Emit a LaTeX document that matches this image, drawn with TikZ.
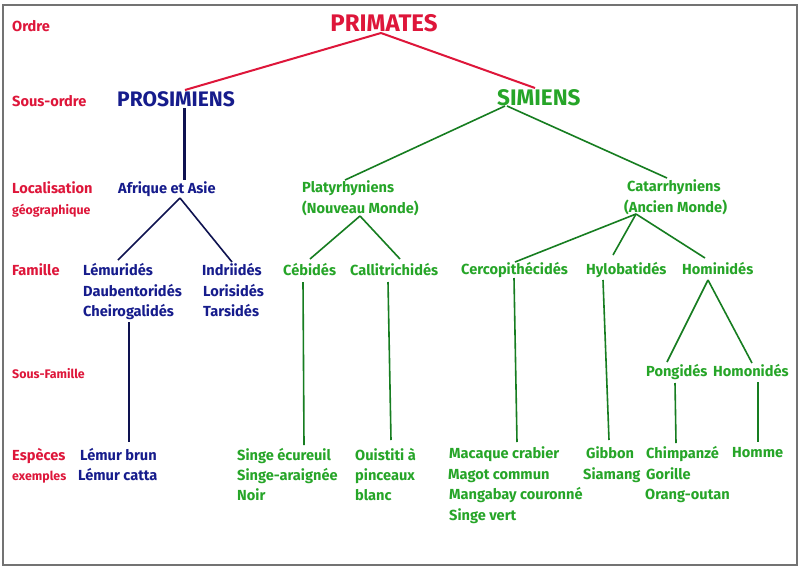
\documentclass[tikz,border=0pt]{standalone}
\usepackage{fontspec}
\setmainfont{Fira Sans}
\usetikzlibrary{calc}
\definecolor{cred}{RGB}{222,22,58}
\definecolor{cblue}{RGB}{22,28,140}
\definecolor{cgreen}{RGB}{38,165,40}
\definecolor{lgreen}{RGB}{22,125,32}
\definecolor{lblue}{RGB}{14,18,80}
\newcommand{\fs}[1]{\fontsize{#1}{#1}\selectfont}
\tikzset{
  x=1pt, y=-1pt,
  txt/.style={anchor=base west, inner sep=0pt, font=\bfseries\fs{14.6}},
  lab/.style={txt, text=cred},
  labs/.style={txt, text=cred, font=\bfseries\fs{12.4}},
  bt/.style={txt, text=cblue},
  gt/.style={txt, text=cgreen},
  rl/.style={draw=cred, line width=2pt},
  bl/.style={draw=lblue, line width=1.6pt},
  gl/.style={draw=lgreen, line width=1.6pt},
}
\begin{document}
\begin{tikzpicture}
\useasboundingbox (0,0) rectangle (800,568);
\fill[white] (0,0) rectangle (800,568);
\draw[black!55, line width=1.2pt] (3,5) rectangle (797,565);
% left labels
\node[lab] (lordre) at (12,31) {Ordre};
\node[lab] (lsous) at (12,106) {Sous-ordre};
\node[lab] (lloc) at (12,193) {Localisation};
\node[labs] (lgeo) at (12,214) {géographique};
\node[lab] (lfam) at (12,275) {Famille};
\node[labs] (lsfam) at (12,378) {Sous-Famille};
\node[lab] (lesp) at (12,460) {Espèces};
\node[labs] (lex) at (12,480) {exemples};
% main
\node[txt, anchor=base, text=cred, font=\bfseries\fs{24}] (prim) at (384,31) {PRIMATES};
\node[bt, font=\bfseries\fs{21}] (pros) at (117,106) {PROSIMIENS};
\node[gt, font=\bfseries\fs{22.5}] (sim) at (497,105) {SIMIENS};
\node[bt] (afr) at (118,193) {Afrique et Asie};
\node[gt] (platy) at (302,192) {Platyrhyniens};
\node[gt] (nouv) at (302,213) {(Nouveau Monde)};
\node[gt] (cat) at (627,191) {Catarrhyniens};
\node[gt] (anc) at (624,212) {(Ancien Monde)};
% familles
\node[bt] (lemu) at (83,275) {Lémuridés};
\node[bt] (daub) at (83,296) {Daubentoridés};
\node[bt] (cheiro) at (83,316) {Cheirogalidés};
\node[bt] (indr) at (202,275) {Indriidés};
\node[bt] (lori) at (203,296) {Lorisidés};
\node[bt] (tars) at (203,316) {Tarsidés};
\node[gt] (ceb) at (283,275) {Cébidés};
\node[gt] (calli) at (350,275) {Callitrichidés};
\node[gt] (cercop) at (461,274) {Cercopithécidés};
\node[gt] (hylo) at (586,274) {Hylobatidés};
\node[gt] (homin) at (682,274) {Hominidés};
% sous-familles
\node[gt] (pong) at (646,376) {Pongidés};
\node[gt] (homon) at (713,376) {Homonidés};
% especes
\node[bt] (lbrun) at (80,460) {Lémur brun};
\node[bt] (lcatta) at (78,480) {Lémur catta};
\node[gt] (singe) at (237,460) {Singe écureuil};
\node[gt] (singea) at (237,480) {Singe-araignée};
\node[gt] (noir) at (237,500) {Noir};
\node[gt] (ouist) at (355,460) {Ouistiti à};
\node[gt] (pinc) at (355,480) {pinceaux};
\node[gt] (blanc) at (355,500) {blanc};
\node[gt] (mac) at (449,458) {Macaque crabier};
\node[gt] (magot) at (448,479) {Magot commun};
\node[gt] (mang) at (449,499) {Mangabay couronné};
\node[gt] (svert) at (449,520) {Singe vert};
\node[gt] (gib) at (586,458) {Gibbon};
\node[gt] (siam) at (583,479) {Siamang};
\node[gt] (chimp) at (646,458) {Chimpanzé};
\node[gt] (gor) at (646,479) {Gorille};
\node[gt] (orang) at (645,499) {Orang-outan};
\node[gt] (homme) at (732,457) {Homme};
% connectors
\draw[rl] ($(prim.base)+(-3,2)$) -- ($(pros.base west)+(68,-16)$);
\draw[rl] ($(prim.base)+(-3,2)$) -- ($(sim.base west)+(38,-17)$);
\draw[draw=lblue, line width=3pt] ($(pros.base west)+(67,2)$) -- ($(afr.base west)+(66,-13)$);
\draw[gl] ($(sim.base west)+(8,1)$) -- ($(platy.base west)+(43,-12)$);
\draw[gl] ($(sim.base west)+(10,1)$) -- ($(cat.base west)+(40,-13)$);
\draw[bl] ($(afr.base west)+(62,5)$) -- ($(lemu.base west)+(35,-15)$);
\draw[bl] ($(afr.base west)+(62,5)$) -- ($(indr.base west)+(30,-13)$);
\draw[gl] ($(nouv.base west)+(58,3)$) -- ($(ceb.base west)+(27,-16)$);
\draw[gl] ($(nouv.base west)+(58,3)$) -- ($(calli.base west)+(50,-16)$);
\draw[gl] ($(anc.base west)+(12,2)$) -- ($(cercop.base west)+(54,-12)$);
\draw[gl] ($(anc.base west)+(12,2)$) -- ($(hylo.base west)+(27,-19)$);
\draw[gl] ($(anc.base west)+(12,2)$) -- ($(homin.base west)+(23,-16)$);
\draw[bl] ($(cheiro.base west)+(46,6)$) -- ($(lbrun.base west)+(49,-18)$);
\draw[gl] ($(ceb.base west)+(20,7)$) -- ($(singe.base west)+(67,-15)$);
\draw[gl] ($(calli.base west)+(38,7)$) -- ($(ouist.base west)+(36,-20)$);
\draw[gl] ($(cercop.base west)+(53,4)$) -- ($(mac.base west)+(68,-16)$);
\draw[gl] ($(hylo.base west)+(17,6)$) -- ($(gib.base west)+(23,-18)$);
\draw[gl] ($(homin.base west)+(26,6)$) -- ($(pong.base west)+(21,-14)$);
\draw[gl] ($(homin.base west)+(26,6)$) -- ($(homon.base west)+(39,-13)$);
\draw[gl] ($(pong.base west)+(29,7)$) -- ($(chimp.base west)+(30,-15)$);
\draw[gl] ($(homon.base west)+(45,6)$) -- ($(homme.base west)+(26,-15)$);
\end{tikzpicture}
\end{document}
